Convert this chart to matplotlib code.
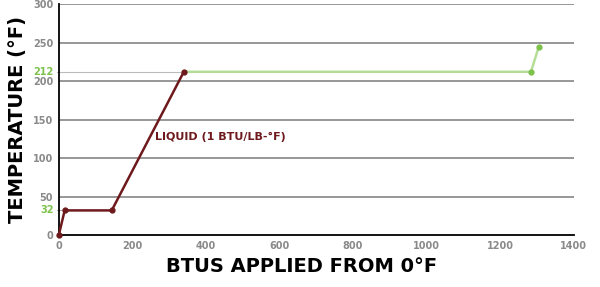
import matplotlib.pyplot as plt

# heating curve of water
liquid_btu = [0, 16, 144, 340]
liquid_temp = [0, 32, 32, 212]
steam_btu = [340, 1284, 1305]
steam_temp = [212, 212, 244]

x_ticks = [0, 200, 400, 600, 800, 1000, 1200, 1400]
y_ticks = [0, 50, 100, 150, 200, 250, 300]
marks = [32, 212]

maroon = '#6e1a1d'
green_line = '#b5dd98'
green_dot = '#7dc24b'
tick_grey = '#8a8a8a'

plt.rcParams['font.family'] = ['DejaVu Sans']

fig = plt.figure(figsize=(6, 2.87), dpi=100)
ax = fig.add_axes([0.098, 0.181, 0.858, 0.805])

ax.set_xlim(0, 1400)
ax.set_ylim(0, 300)

for y in y_ticks[1:]:
    ax.axhline(y, color='#7a7a7a', lw=1.1, zorder=1)

# guide lines for 32 and 212
ax.plot([-6, liquid_btu[1]], [marks[0], marks[0]], color='#aaaaaa', lw=0.8, clip_on=False, zorder=2)
ax.plot([-6, liquid_btu[3]], [marks[1], marks[1]], color='#bbbbbb', lw=0.8, clip_on=False, zorder=2)

ax.plot(steam_btu, steam_temp, color=green_line, lw=1.8, zorder=3)
ax.plot(steam_btu[1:], steam_temp[1:], 'o', color=green_dot, ms=3.5, zorder=4)
ax.plot(liquid_btu, liquid_temp, color=maroon, lw=1.8, marker='o', ms=3.5, zorder=5, clip_on=False)

ax.text(262, 127, 'LIQUID (1 BTU/LB-°F)', color=maroon, fontsize=8, fontweight='bold',
        ha='left', va='center')

ax.set_xticks(x_ticks)
ax.set_yticks(y_ticks)
ax.tick_params(length=0, labelsize=7, labelcolor=tick_grey, pad=4)
for lab in ax.get_xticklabels() + ax.get_yticklabels():
    lab.set_fontweight('bold')

for y in marks:
    ax.text(-14, y, str(y), color=green_dot, fontsize=7, fontweight='bold', ha='right', va='center')

for s in ['top', 'right']:
    ax.spines[s].set_visible(False)
ax.spines['left'].set_linewidth(1.3)
ax.spines['bottom'].set_linewidth(1.3)

fig.text(0.503, 0.072, 'BTUS APPLIED FROM 0°F', fontsize=14, fontweight='bold', ha='center', va='center')
fig.text(0.03, 0.585, 'TEMPERATURE (°F)', fontsize=14, fontweight='bold', ha='center', va='center',
         rotation=90)

fig.savefig('out.png')
